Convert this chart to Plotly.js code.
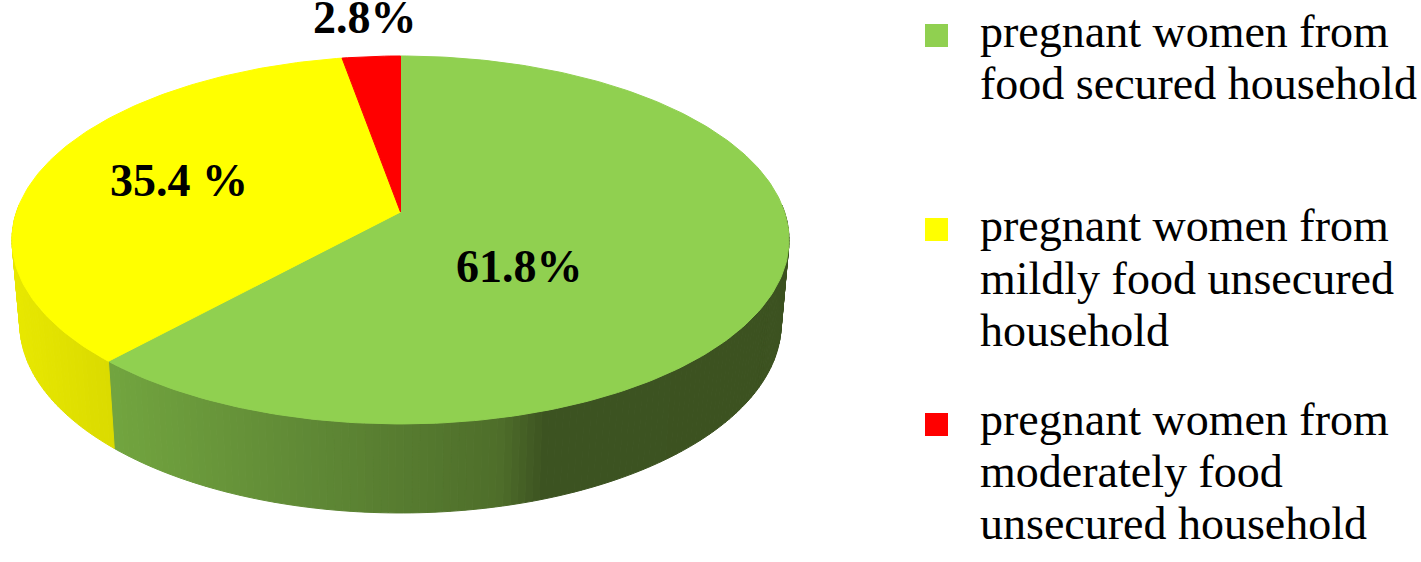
<!DOCTYPE html>
<html>
<head>
<meta charset="utf-8">
<script src="https://cdn.plot.ly/plotly-3.0.1.min.js"></script>
<style>
  html, body { margin: 0; padding: 0; background: #fff; }
  #pie3d { width: 1421px; height: 562px; }
</style>
</head>
<body>
<div id="pie3d"></div>
<script>
// data
const categories = [
  ["pregnant women from", "food secured household"],
  ["pregnant women from", "mildly food unsecured", "household"],
  ["pregnant women from", "moderately food", "unsecured household"]
];
const percents = [61.8, 35.4, 2.8];
const percentLabels = ["61.8%", "35.4 %", "2.8%"];
const colors = ["#90d050", "#ffff00", "#ff0000"];

// where the texts and legend keys sit, in page pixels
const labelX = [519, 179, 365];
const labelY = [266, 180, 17];
const legendLineY = [[31, 83], [225, 278, 330], [419, 471, 523]];
const keyTop = [24, 218, 413];

// side wall shading: [page x, r, g, b]
const wallShades = [
  [[107, 114, 165, 63], [300, 96, 138, 54], [500, 78, 110, 42], [545, 60, 83, 33], [800, 60, 82, 32]],
  [[10, 232, 232, 0], [113, 218, 218, 0]],
  [[340, 200, 0, 0], [400, 200, 0, 0]]
];

// a flat disc seen in perspective, theta goes clockwise from the back of the pie
const cx = 400.5, cy = 212, persp = 0.152, radius = 384;
function topRim(theta) {
  const u = Math.sin(theta), v = Math.cos(theta), d = persp * v + 1;
  return [cx + radius * u / d, (cy - 147.5 * v) / d];
}
function bottomRim(theta) {
  const p = topRim(theta);
  return [cx + (p[0] - cx) * 0.98, 323.5 + (p[1] - 240) * 1.03];
}

function shade(i, x) {
  const s = wallShades[i];
  let a = s[0], b = s[s.length - 1];
  for (let k = 0; k < s.length - 1; k++) {
    if (x >= s[k][0] && x <= s[k + 1][0]) { a = s[k]; b = s[k + 1]; break; }
  }
  let t = (x - a[0]) / (b[0] - a[0]);
  t = Math.max(0, Math.min(1, t));
  const c = [1, 2, 3].map(n => Math.round(a[n] + (b[n] - a[n]) * t));
  return `rgb(${c[0]},${c[1]},${c[2]})`;
}

// slice limits from the percents
const total = percents.reduce((a, b) => a + b, 0);
const limits = [0];
percents.forEach((p, i) => limits.push(limits[i] + p / total * Math.PI * 2));

const wallTraces = [];
const faceTraces = [];
const step = Math.PI / 180;

percents.forEach((p, i) => {
  const start = limits[i], end = limits[i + 1];
  const n = Math.ceil((end - start) / step);

  // side wall, thin strips so the shading changes along the rim
  for (let k = 0; k < n; k++) {
    const t0 = start + (end - start) * k / n;
    const t1 = start + (end - start) * (k + 1) / n;
    if (Math.cos(t0) > 0.05 || Math.cos(t1) > 0.05) continue;
    const a = topRim(t0), b = topRim(t1), c = bottomRim(t1), e = bottomRim(t0);
    const col = shade(i, (a[0] + b[0]) / 2);
    wallTraces.push({
      x: [a[0], b[0], c[0], e[0], a[0]],
      y: [a[1], b[1], c[1], e[1], a[1]],
      mode: "lines",
      fill: "toself",
      fillcolor: col,
      line: {color: col, width: 1},
      hoverinfo: "skip",
      showlegend: false
    });
  }

  // top face
  const fx = [cx], fy = [cy];
  for (let k = 0; k <= n; k++) {
    const q = topRim(start + (end - start) * k / n);
    fx.push(q[0]);
    fy.push(q[1]);
  }
  fx.push(cx);
  fy.push(cy);
  faceTraces.push({
    x: fx,
    y: fy,
    mode: "lines",
    fill: "toself",
    fillcolor: colors[i],
    line: {color: colors[i], width: 1},
    hoverinfo: "skip",
    showlegend: false
  });
});

const annotations = [];
percentLabels.forEach((t, i) => {
  annotations.push({
    x: labelX[i], y: labelY[i], text: "<b>" + t + "</b>", showarrow: false,
    xanchor: "center", yanchor: "middle",
    font: {family: "Liberation Serif", size: 46, color: "#000"}
  });
});
// legend lines one by one, the line spacing is tighter than plotly's own
categories.forEach((lines, i) => {
  lines.forEach((t, j) => {
    annotations.push({
      x: 978, y: legendLineY[i][j], text: t, showarrow: false,
      xanchor: "left", yanchor: "middle", align: "left",
      font: {family: "Liberation Serif", size: 46, color: "#000"}
    });
  });
});

const shapes = colors.map((c, i) => ({
  type: "rect", xref: "x", yref: "y",
  x0: 925, x1: 948, y0: keyTop[i], y1: keyTop[i] + 23,
  fillcolor: c, line: {width: 0}
}));

const layout = {
  width: 1421,
  height: 562,
  margin: {l: 0, r: 0, t: 0, b: 0},
  paper_bgcolor: "#fff",
  plot_bgcolor: "#fff",
  showlegend: false,
  xaxis: {range: [0, 1421], visible: false, fixedrange: true},
  yaxis: {range: [562, 0], visible: false, fixedrange: true},
  annotations: annotations,
  shapes: shapes
};

Plotly.newPlot("pie3d", wallTraces.concat(faceTraces), layout, {displayModeBar: false, staticPlot: true});
</script>
</body>
</html>
